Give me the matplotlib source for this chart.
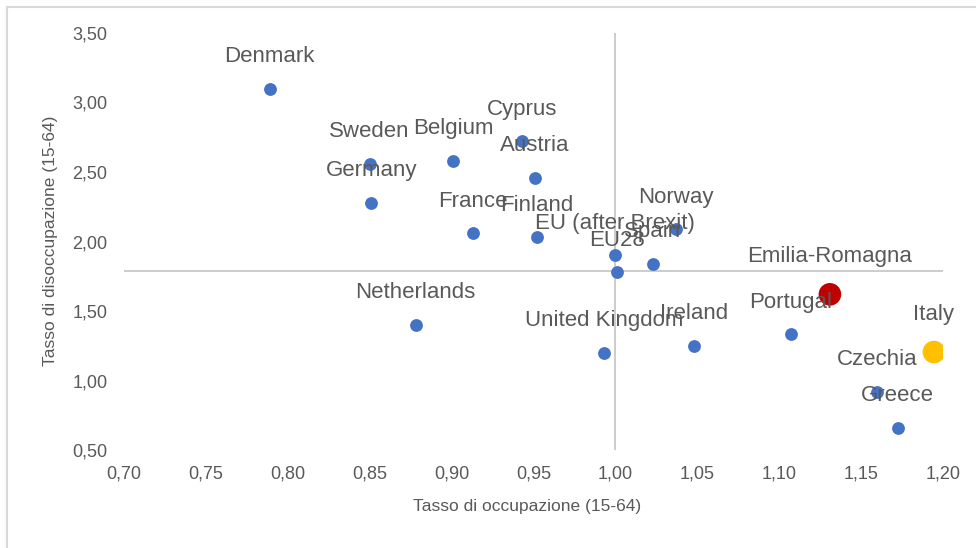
import matplotlib
matplotlib.use("Agg")
import matplotlib.pyplot as plt
from matplotlib.ticker import FuncFormatter, MultipleLocator
from matplotlib.lines import Line2D

plt.rcParams['font.family'] = ['Liberation Sans', 'DejaVu Sans']

# data: employment rate index (x) vs unemployment rate index (y)
countries = ["Denmark", "Sweden", "Belgium", "Germany", "Cyprus", "Austria",
             "France", "Finland", "Norway", "EU (after Brexit)", "Spain", "EU28",
             "Netherlands", "United Kingdom", "Ireland", "Portugal", "Czechia",
             "Greece"]
occ = [0.789, 0.850, 0.901, 0.851, 0.943, 0.951,
       0.913, 0.952, 1.037, 1.000, 1.023, 1.001,
       0.878, 0.993, 1.048, 1.107, 1.160, 1.1725]
disocc = [3.10, 2.56, 2.58, 2.28, 2.72, 2.46,
          2.06, 2.03, 2.09, 1.90, 1.84, 1.78,
          1.40, 1.20, 1.25, 1.335, 0.92, 0.66]

highlight = ["Emilia-Romagna", "Italy"]
hl_occ = [1.131, 1.1945]
hl_disocc = [1.62, 1.205]
hl_colors = ["#C00000", "#FFC000"]

# where the axes cross
cross_x = 1.00
cross_y = 1.79

grey = "#595959"

fig = plt.figure(figsize=(9.76, 5.48), dpi=100)
ax = fig.add_axes([0.1270, 0.1788, 0.8391, 0.7610])

ax.axhline(cross_y, color="#BFBFBF", lw=1.1, zorder=1)
ax.axvline(cross_x, color="#BFBFBF", lw=1.1, zorder=1)

ax.scatter(occ, disocc, s=85, color="#4472C4", zorder=3, linewidths=0)
ax.scatter(hl_occ, hl_disocc, s=265, color=hl_colors, zorder=3, linewidths=0)

for name, x, y in zip(countries, occ, disocc):
    ax.annotate(name, (x, y), xytext=(0, 23), textcoords="offset points",
                ha="center", va="center", fontsize=16, color=grey, zorder=4)
for name, x, y in zip(highlight, hl_occ, hl_disocc):
    ax.annotate(name, (x, y), xytext=(0, 27), textcoords="offset points",
                ha="center", va="center", fontsize=16, color=grey, zorder=4)

ax.set_xlim(0.70, 1.20)
ax.set_ylim(0.50, 3.50)
ax.xaxis.set_major_locator(MultipleLocator(0.05))
ax.yaxis.set_major_locator(MultipleLocator(0.50))
ax.xaxis.set_major_formatter(FuncFormatter(lambda v, p: f"{v:.2f}".replace(".", ",")))
ax.yaxis.set_major_formatter(FuncFormatter(lambda v, p: f"{v:.2f}".replace(".", ",")))
ax.tick_params(axis="both", length=0, labelsize=13, labelcolor=grey)
ax.tick_params(axis="x", pad=11)
ax.tick_params(axis="y", pad=12)
for s in ax.spines.values():
    s.set_visible(False)

fig.text(527 / 976, 1 - 507 / 548, "Tasso di occupazione (15-64)",
         ha="center", va="center", fontsize=12.5, color=grey)
fig.text(51 / 976, 1 - 241 / 548, "Tasso di disoccupazione (15-64)",
         ha="center", va="center", rotation=90, fontsize=12.5, color=grey)

# chart border (top and left edges visible in the crop)
fig.add_artist(Line2D([7 / 976, 1], [1 - 7 / 548, 1 - 7 / 548],
                      transform=fig.transFigure, color="#D9D9D9", lw=1.5))
fig.add_artist(Line2D([7 / 976, 7 / 976], [0, 1 - 7 / 548],
                      transform=fig.transFigure, color="#D9D9D9", lw=1.5))

fig.savefig("out.png", dpi=100)
